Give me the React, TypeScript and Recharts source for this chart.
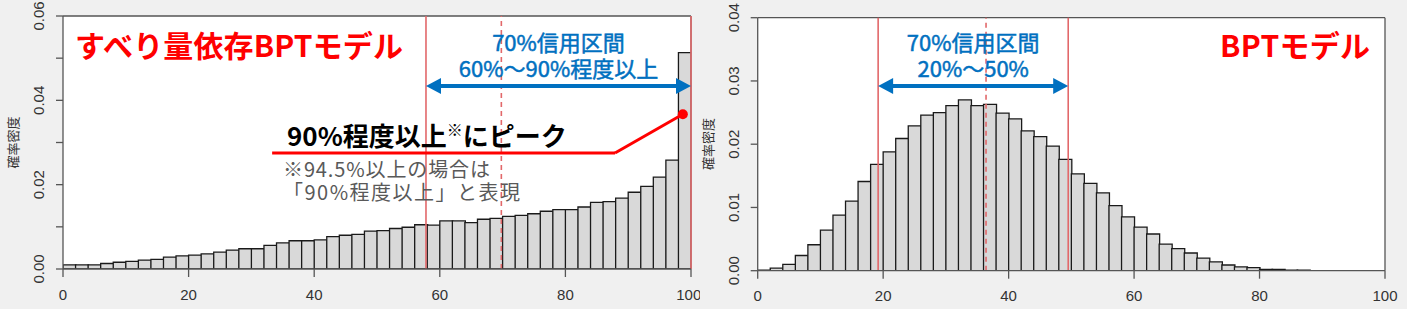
import React from "react";
import {
  Bar,
  BarChart,
  CartesianGrid,
  ReferenceDot,
  ReferenceLine,
  XAxis,
  YAxis,
} from "recharts";

// bin centres (2% wide bins from 0 to 100)
const binMids = [
  1, 3, 5, 7, 9, 11, 13, 15, 17, 19, 21, 23, 25, 27, 29, 31, 33, 35, 37, 39,
  41, 43, 45, 47, 49, 51, 53, 55, 57, 59, 61, 63, 65, 67, 69, 71, 73, 75, 77, 79,
  81, 83, 85, 87, 89, 91, 93, 95, 97, 99,
];

// すべり量依存BPTモデル density
const slipDensity = [
  0.001, 0.001, 0.001, 0.0013, 0.0016, 0.0018, 0.0021, 0.0023, 0.0028, 0.0031,
  0.0033, 0.0036, 0.004, 0.0045, 0.0048, 0.0048, 0.0056, 0.0062, 0.0067, 0.0067,
  0.0069, 0.0077, 0.008, 0.0082, 0.009, 0.0091, 0.0096, 0.0099, 0.0105, 0.0104,
  0.0114, 0.0114, 0.011, 0.0118, 0.012, 0.0125, 0.0127, 0.0131, 0.0137, 0.0141,
  0.0141, 0.0147, 0.0158, 0.016, 0.0168, 0.0182, 0.0196, 0.0218, 0.0258, 0.0513,
];

// BPTモデル density
const bptDensity = [
  0.0001, 0.0004, 0.001, 0.0024, 0.0041, 0.0064, 0.0088, 0.011, 0.0141, 0.0168,
  0.0188, 0.0209, 0.0229, 0.0246, 0.025, 0.0261, 0.027, 0.0261, 0.0263, 0.0249,
  0.024, 0.0221, 0.0212, 0.0197, 0.0176, 0.0153, 0.0138, 0.0123, 0.0103, 0.0085,
  0.0069, 0.0058, 0.0042, 0.0035, 0.0028, 0.002, 0.0014, 0.0009, 0.0006, 0.0005,
  0.0002, 0.0002, 0.0001, 0.0001, 0, 0, 0, 0, 0, 0,
];

const xTicks = [0, 20, 40, 60, 80, 100];
const slipYTicks = [0, 0.01, 0.02, 0.03, 0.04, 0.05, 0.06];
const bptYTicks = [0, 0.01, 0.02, 0.03, 0.04];

// credible intervals: [low, median, high]
const slipInterval = [57.8, 69.8, 100];
const bptInterval = [19.2, 36.4, 49.5];

const slipData = binMids.map((x, i) => ({ x, d: slipDensity[i] }));
const bptData = binMids.map((x, i) => ({ x, d: bptDensity[i] }));

const JP = '"Noto Sans CJK JP", "Noto Sans", sans-serif';
const SANS = '"Liberation Sans", Arial, sans-serif';
const BLUE = "#0070c0";
const PINK = "#e2686a";
const AXIS = "#555";

function YTick(props: any) {
  const { x, y, payload, every } = props;
  const v = payload.value as number;
  if (Math.round(v * 100) % every !== 0) return null;
  return (
    <text
      transform={`translate(${x - 10},${y}) rotate(-90)`}
      textAnchor="middle"
      fontSize={15}
      fontFamily={SANS}
      fill="#333"
    >
      {v.toFixed(2)}
    </text>
  );
}

function Arrow(props: any) {
  const { x1, y1, x2, lines } = props;
  const head = 15;
  const half = 8;
  const mid = (x1 + x2) / 2;
  const txt = {
    textAnchor: "middle" as const,
    fontSize: 22,
    fontFamily: JP,
    fill: BLUE,
    stroke: BLUE,
    strokeWidth: 0.5,
  };
  return (
    <g>
      <line x1={x1 + head - 1} y1={y1} x2={x2 - head + 1} y2={y1} stroke={BLUE} strokeWidth={4} />
      <polygon points={`${x1},${y1} ${x1 + head},${y1 - half} ${x1 + head},${y1 + half}`} fill={BLUE} />
      <polygon points={`${x2},${y1} ${x2 - head},${y1 - half} ${x2 - head},${y1 + half}`} fill={BLUE} />
      <text x={mid} y={y1 - 35} {...txt}>
        {lines[0]}
      </text>
      <text x={mid} y={y1 - 9} {...txt}>
        {lines[1]}
      </text>
    </g>
  );
}

function Histogram({
  data,
  width,
  margin,
  yTicks,
  every,
  interval,
  arrowY,
  arrowText,
  children,
}: any) {
  const yMax = yTicks[yTicks.length - 1];
  return (
    <BarChart width={width} height={309} data={data} margin={margin} barCategoryGap={0}>
      <CartesianGrid horizontal={false} vertical={false} fill="#fff" stroke="none" />
      <XAxis
        dataKey="x"
        type="number"
        domain={[0, 100]}
        ticks={xTicks}
        allowDataOverflow
        stroke={AXIS}
        strokeWidth={1.3}
        tickSize={8}
        tickMargin={12}
        tick={{ fill: "#333", fontSize: 15, fontFamily: SANS }}
      />
      <YAxis
        type="number"
        domain={[0, yMax]}
        ticks={yTicks}
        width={50}
        allowDataOverflow
        stroke={AXIS}
        strokeWidth={1.3}
        tickSize={7}
        tick={<YTick every={every} />}
      />
      <Bar dataKey="d" fill="#d9d9d9" stroke="#1a1a1a" strokeWidth={1.3} isAnimationActive={false} />
      <ReferenceLine y={yMax} stroke={AXIS} strokeWidth={1.3} />
      <ReferenceLine x={100} stroke={AXIS} strokeWidth={1.3} />
      <ReferenceLine x={interval[0]} stroke={PINK} strokeWidth={1.6} />
      <ReferenceLine x={interval[1]} stroke={PINK} strokeWidth={1.6} strokeDasharray="5 4" />
      <ReferenceLine x={interval[2]} stroke={PINK} strokeWidth={1.6} />
      <ReferenceLine
        segment={[
          { x: interval[0], y: arrowY },
          { x: interval[2], y: arrowY },
        ]}
        shape={(p: any) => <Arrow {...p} lines={arrowText} />}
      />
      {children}
    </BarChart>
  );
}

export default function App() {
  return (
    <div
      style={{
        position: "absolute",
        left: 0,
        top: 0,
        width: 1407,
        height: 309,
        background: "#f0f0f0",
        overflow: "hidden",
      }}
    >
      <div style={{ position: "absolute", left: 0, top: 0 }}>
        <Histogram
          data={slipData}
          width={700}
          margin={{ top: 16, right: 9, bottom: 10, left: 13 }}
          yTicks={slipYTicks}
          every={2}
          interval={slipInterval}
          arrowY={0.0434}
          arrowText={["70%信用区間", "60%～90%程度以上"]}
        >
          <ReferenceLine
            segment={[
              { x: 33.3, y: 0.0275 },
              { x: 87.9, y: 0.0275 },
            ]}
            stroke="#ff0000"
            strokeWidth={3}
          />
          <ReferenceLine
            segment={[
              { x: 87.9, y: 0.0275 },
              { x: 98.7, y: 0.0367 },
            ]}
            stroke="#ff0000"
            strokeWidth={3}
          />
          <ReferenceDot x={98.7} y={0.0367} r={5} fill="#ff0000" stroke="none" />
        </Histogram>
      </div>
      <div style={{ position: "absolute", left: 700, top: 0 }}>
        <Histogram
          data={bptData}
          width={707}
          margin={{ top: 17.7, right: 22, bottom: 8.3, left: 7.7 }}
          yTicks={bptYTicks}
          every={1}
          interval={bptInterval}
          arrowY={0.0292}
          arrowText={["70%信用区間", "20%～50%"]}
        />
      </div>
      <svg
        width={1407}
        height={309}
        style={{ position: "absolute", left: 0, top: 0, pointerEvents: "none" }}
      >
        <text x={75} y={57} fontSize={30} fontWeight="bold" fontFamily={JP} fill="#ff0000" textLength={328}>
          すべり量依存BPTモデル
        </text>
        <text x={1220} y={57} fontSize={30} fontWeight="bold" fontFamily={JP} fill="#ff0000" textLength={150}>
          BPTモデル
        </text>
        <text x={287} y={146} fontSize={26} fontWeight="bold" fontFamily={JP} fill="#000">
          90%程度以上
          <tspan fontSize={16} fontWeight="normal" dy={-10}>※</tspan>
          <tspan dy={10}>にピーク</tspan>
        </text>
        <text x={283} y={177} fontSize={20} fontFamily={JP} fill="#595959" textLength={207}>
          ※94.5%以上の場合は
        </text>
        <text x={283} y={200} fontSize={20} fontFamily={JP} fill="#595959" textLength={237}>
          「90%程度以上」と表現
        </text>
        <text
          transform="translate(18,142.5) rotate(-90)"
          textAnchor="middle"
          fontSize={13}
          fontFamily={JP}
          fill="#333"
        >
          確率密度
        </text>
        <text
          transform="translate(713,144) rotate(-90)"
          textAnchor="middle"
          fontSize={13}
          fontFamily={JP}
          fill="#333"
        >
          確率密度
        </text>
      </svg>
    </div>
  );
}
